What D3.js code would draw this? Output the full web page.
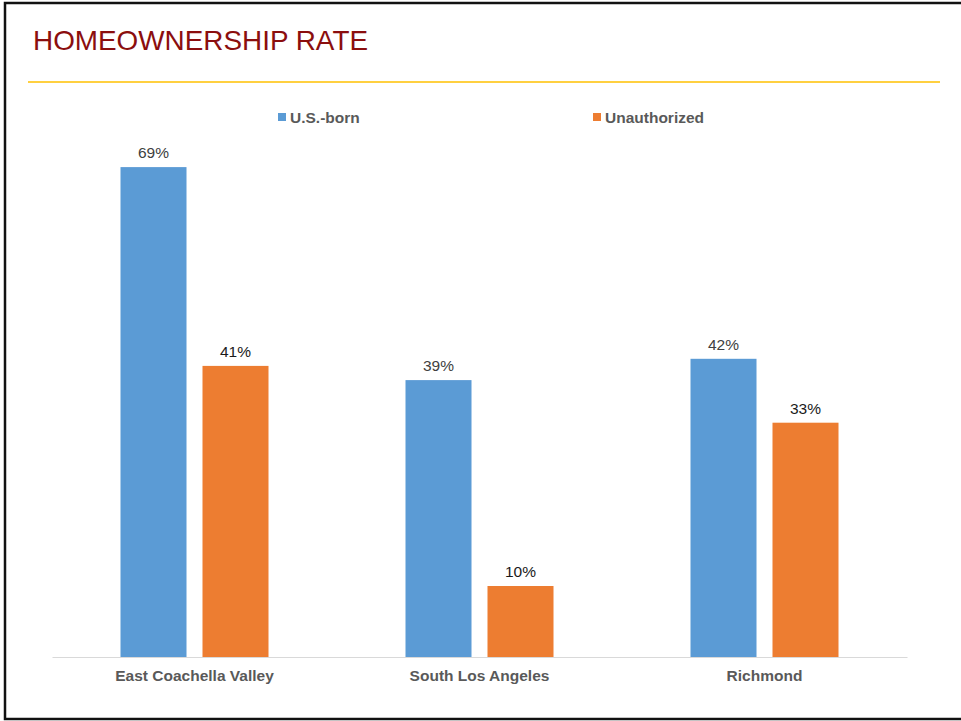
<!DOCTYPE html>
<html>
<head>
<meta charset="utf-8">
<script src="https://cdn.jsdelivr.net/npm/d3@7"></script>
<style>
  html, body { margin: 0; padding: 0; background: #fff; }
  svg { display: block; font-family: "Liberation Sans", Arial, sans-serif; }
</style>
</head>
<body>
<svg id="chart" width="961" height="721"></svg>
<script>
const title = "HOMEOWNERSHIP RATE";
const categories = ["East Coachella Valley", "South Los Angeles", "Richmond"];
const seriesNames = ["U.S.-born", "Unauthorized"];
const usBorn = [69, 39, 42];
const unauthorized = [41, 10, 33];
const seriesColors = ["#5B9BD5", "#ED7D31"];

const svg = d3.select("#chart");

// frame
svg.append("rect")
  .attr("x", 5).attr("y", 3).attr("width", 1000).attr("height", 716)
  .attr("fill", "none").attr("stroke", "#111").attr("stroke-width", 2.5);

// title
svg.append("text")
  .attr("x", 33).attr("y", 50)
  .attr("font-size", 28.5)
  .attr("fill", "#8B0E0E")
  .attr("textLength", 335)
  .attr("lengthAdjust", "spacingAndGlyphs")
  .text(title);

// gold rule
svg.append("line")
  .attr("x1", 28).attr("x2", 940).attr("y1", 82).attr("y2", 82)
  .attr("stroke", "#FFC000").attr("stroke-width", 1.5);

// scales
const baseline = 657;
const x0 = d3.scaleBand().domain(categories).range([52, 907]).padding(0);
const groupW = 148;
const x1 = d3.scaleBand().domain(seriesNames).range([0, groupW]).paddingInner(0.195).paddingOuter(0);
const y = d3.scaleLinear().domain([0, 70]).range([baseline, baseline - 497]);

const data = categories.map((c, i) => ({
  cat: c,
  values: [
    { s: seriesNames[0], v: usBorn[i] },
    { s: seriesNames[1], v: unauthorized[i] }
  ]
}));
const color = d3.scaleOrdinal().domain(seriesNames).range(seriesColors);

// axis
const xAxis = d3.axisBottom(x0).tickSize(0).tickPadding(13);
const gAxis = svg.append("g").attr("transform", `translate(0,${baseline})`).call(xAxis);
gAxis.select(".domain").attr("stroke", "#D9D9D9").attr("stroke-width", 1.2);
gAxis.selectAll("text")
  .attr("font-size", 15.5).attr("font-weight", "bold").attr("fill", "#595959")
  .attr("font-family", "\"Liberation Sans\", Arial, sans-serif");

// bars
const groups = svg.append("g").selectAll("g").data(data).join("g")
  .attr("transform", d => `translate(${x0(d.cat) + (x0.bandwidth() - groupW) / 2},0)`);

groups.selectAll("rect").data(d => d.values).join("rect")
  .attr("x", d => x1(d.s))
  .attr("y", d => y(d.v))
  .attr("width", x1.bandwidth())
  .attr("height", d => baseline - y(d.v))
  .attr("fill", d => color(d.s));

groups.selectAll("text.val").data(d => d.values).join("text")
  .attr("class", "val")
  .attr("x", d => x1(d.s) + x1.bandwidth() / 2)
  .attr("y", d => y(d.v) - 9)
  .attr("text-anchor", "middle")
  .attr("font-size", 15.5)
  .attr("fill", d => d.s === seriesNames[0] ? "#404040" : "#1a1a1a")
  .text(d => d.v + "%");

// legend
const legendPos = [278, 593];
const leg = svg.append("g").selectAll("g").data(seriesNames).join("g")
  .attr("transform", (d, i) => `translate(${legendPos[i]},117)`);
leg.append("rect").attr("x", 0).attr("y", -4).attr("width", 8).attr("height", 8)
  .attr("fill", d => color(d));
leg.append("text").attr("x", 12).attr("y", 5.5)
  .attr("font-size", 15.5).attr("font-weight", "bold").attr("fill", "#595959")
  .text(d => d);
</script>
</body>
</html>
